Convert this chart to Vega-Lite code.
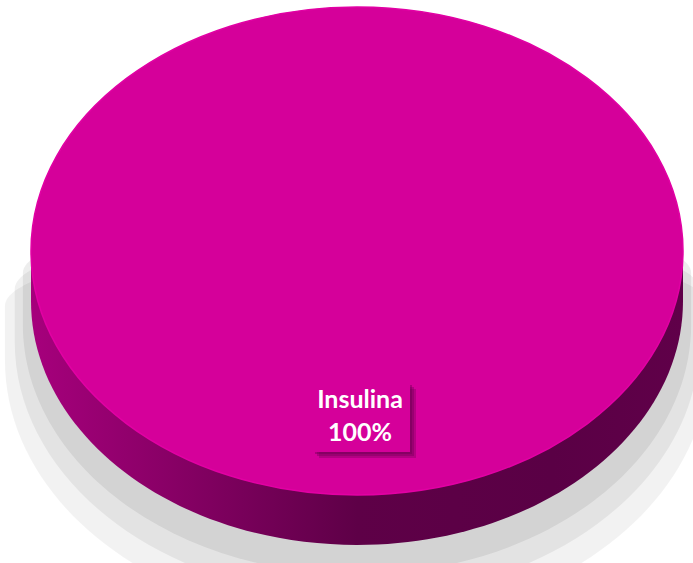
{
  "$schema": "https://vega.github.io/schema/vega-lite/v6.json",
  "autosize": {"type": "none"},
  "width": 672,
  "height": 502,
  "padding": {"left": 21, "top": 0, "right": 0, "bottom": 61},
  "background": "#ffffff",
  "config": {"view": {"stroke": null}},
  "data": {"values": [{"category": "Insulina", "share": 1}]},
  "layer": [
    {
      "mark": {"type": "point", "filled": true, "opacity": 0.05, "fill": "#000000", "strokeWidth": 0, "yOffset": 55, "size": 495841,
        "shape": "M -1 0 C -1 -0.1 -0.55 -0.18 0 -0.18 C 0.55 -0.18 1 -0.1 1 0 L 1 0.1534 C 1 0.5668 0.5523 0.9019 0 0.9019 C -0.5523 0.9019 -1 0.5668 -1 0.1534 Z"},
      "encoding": {}
    },
    {
      "mark": {"type": "point", "filled": true, "opacity": 0.06, "fill": "#000000", "strokeWidth": 0, "yOffset": 38, "size": 468677,
        "shape": "M -1 0 C -1 -0.1 -0.55 -0.18 0 -0.18 C 0.55 -0.18 1 -0.1 1 0 L 1 0.1534 C 1 0.5668 0.5523 0.9019 0 0.9019 C -0.5523 0.9019 -1 0.5668 -1 0.1534 Z"},
      "encoding": {}
    },
    {
      "mark": {"type": "point", "filled": true, "opacity": 0.07, "fill": "#000000", "strokeWidth": 0, "yOffset": 22, "size": 446625,
        "shape": "M -1 0 C -1 -0.1 -0.55 -0.18 0 -0.18 C 0.55 -0.18 1 -0.1 1 0 L 1 0.1534 C 1 0.5668 0.5523 0.9019 0 0.9019 C -0.5523 0.9019 -1 0.5668 -1 0.1534 Z"},
      "encoding": {}
    },
    {
      "mark": {"type": "point", "filled": true, "opacity": 1, "strokeWidth": 0, "size": 425104,
        "fill": {"gradient": "linear", "x1": 0, "x2": 1, "y1": 0, "y2": 0,
          "stops": [
            {"offset": 0, "color": "#A6007C"},
            {"offset": 0.2, "color": "#8A0067"},
            {"offset": 0.5, "color": "#5E0047"},
            {"offset": 0.8, "color": "#5A0045"},
            {"offset": 1, "color": "#600049"}
          ]},
        "shape": "M -1 0 L -1 0.1534 C -1 0.5668 -0.5523 0.9019 0 0.9019 C 0.5523 0.9019 1 0.5668 1 0.1534 L 1 0 Z"},
      "encoding": {}
    },
    {
      "mark": {"type": "point", "filled": true, "opacity": 1, "size": 425104, "stroke": "#E200A4", "strokeWidth": 1.5,
        "shape": "M -1 0 C -1 -0.4134 -0.5523 -0.7485 0 -0.7485 C 0.5523 -0.7485 1 -0.4134 1 0 C 1 0.4134 0.5523 0.7485 0 0.7485 C -0.5523 0.7485 -1 0.4134 -1 0 Z"},
      "encoding": {
        "color": {"field": "category", "type": "nominal", "scale": {"range": ["#D5009A"]}, "legend": null}
      }
    },
    {
      "mark": {"type": "point", "filled": true, "opacity": 0.3, "fill": "#6A0050", "strokeWidth": 0, "size": 9409, "xOffset": 10.5, "yOffset": 172.5,
        "shape": "M -1 -0.7113 L 1 -0.7113 L 1 0.7113 L -1 0.7113 Z"},
      "encoding": {}
    },
    {
      "mark": {"type": "point", "filled": true, "opacity": 0.35, "fill": "#6A0050", "strokeWidth": 0, "size": 9409, "xOffset": 8.5, "yOffset": 170.5,
        "shape": "M -1 -0.7113 L 1 -0.7113 L 1 0.7113 L -1 0.7113 Z"},
      "encoding": {}
    },
    {
      "mark": {"type": "point", "filled": true, "opacity": 0.4, "fill": "#6A0050", "strokeWidth": 0, "size": 9409, "xOffset": 6.5, "yOffset": 168.5,
        "shape": "M -1 -0.7113 L 1 -0.7113 L 1 0.7113 L -1 0.7113 Z"},
      "encoding": {}
    },
    {
      "mark": {"type": "point", "filled": true, "opacity": 1, "strokeWidth": 0, "size": 9409, "xOffset": 4.5, "yOffset": 166.5,
        "shape": "M -1 -0.7113 L 1 -0.7113 L 1 0.7113 L -1 0.7113 Z"},
      "encoding": {
        "color": {"field": "category", "type": "nominal", "scale": {"range": ["#D5009A"]}, "legend": null}
      }
    },
    {
      "mark": {"type": "text", "font": "Lato", "fontWeight": "bold", "fontSize": 25, "fill": "#FFFFFF", "align": "center", "baseline": "alphabetic", "dx": 3, "dy": 157},
      "encoding": {"text": {"field": "category", "type": "nominal"}}
    },
    {
      "mark": {"type": "text", "font": "Lato", "fontWeight": "bold", "fontSize": 25, "fill": "#FFFFFF", "align": "center", "baseline": "alphabetic", "dx": 3, "dy": 190},
      "encoding": {"text": {"field": "share", "type": "quantitative", "format": ".0%"}}
    }
  ]
}
